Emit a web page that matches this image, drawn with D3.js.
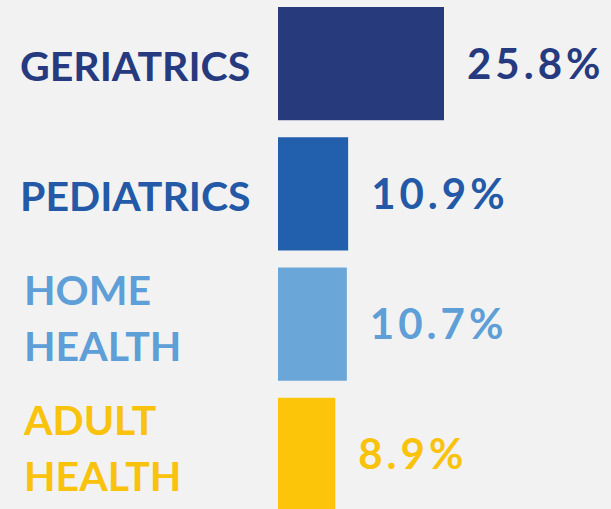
<!DOCTYPE html>
<html>
<head>
<meta charset="utf-8">
<script src="https://cdn.jsdelivr.net/npm/d3@7"></script>
<style>
	html, body { margin: 0; padding: 0; background: #f2f2f2; }
	svg { display: block; }
	text { font-family: Lato, "Open Sans", sans-serif; font-weight: bold; }
</style>
</head>
<body>
<svg class="chart" width="611" height="509"></svg>
<script>
var categories = ["GERIATRICS", "PEDIATRICS", "HOME HEALTH", "ADULT HEALTH"],
	values = [25.8, 10.9, 10.7, 8.9];

var barColors = ["#273a7c", "#2260ad", "#6aa6d8", "#fcc50a"],
	textColors = ["#263a80", "#2359a6", "#5d9fd6", "#f8c20d"];

var svg = d3.select(".chart"),
	width = +svg.attr("width"),
	height = +svg.attr("height");

var x = d3.scaleLinear()
	.domain([0, d3.max(values)])
	.range([278, 444]);

var y = d3.scaleBand()
	.domain(categories)
	.range([7, 511])
	.paddingInner(17 / 130)
	.paddingOuter(0);

var rows = svg.selectAll(".row")
	.data(categories)
	.enter()
	.append("g")
	.attr("class", "row");

// bars
rows.append("rect")
	.attr("x", x(0))
	.attr("y", function (d) { return y(d); })
	.attr("width", function (d, i) { return x(values[i]) - x(0); })
	.attr("height", y.bandwidth())
	.attr("fill", function (d, i) { return barColors[i]; });

// category labels, wrapped on spaces
rows.append("text")
	.attr("font-size", 41)
	.attr("fill", function (d, i) { return textColors[i]; })
	.each(function (d) {
		var words = d.split(" "),
			mid = y(d) + y.bandwidth() / 2,
			t = d3.select(this);
		if (words.length == 1) {
			t.append("tspan")
				.attr("x", 20)
				.attr("y", mid + 17)
				.text(words[0]);
		} else {
			words.forEach(function (w, k) {
				t.append("tspan")
					.attr("x", 24)
					.attr("y", mid - 19 + k * 56)
					.text(w);
			});
		}
	});

// value labels
rows.append("text")
	.attr("x", function (d, i) { return x(values[i]) + 23; })
	.attr("y", function (d) { return y(d) + y.bandwidth() / 2 + 15; })
	.attr("font-size", 42)
	.attr("letter-spacing", 4)
	.attr("fill", function (d, i) { return textColors[i]; })
	.text(function (d, i) { return values[i] + "%"; });
</script>
</body>
</html>
